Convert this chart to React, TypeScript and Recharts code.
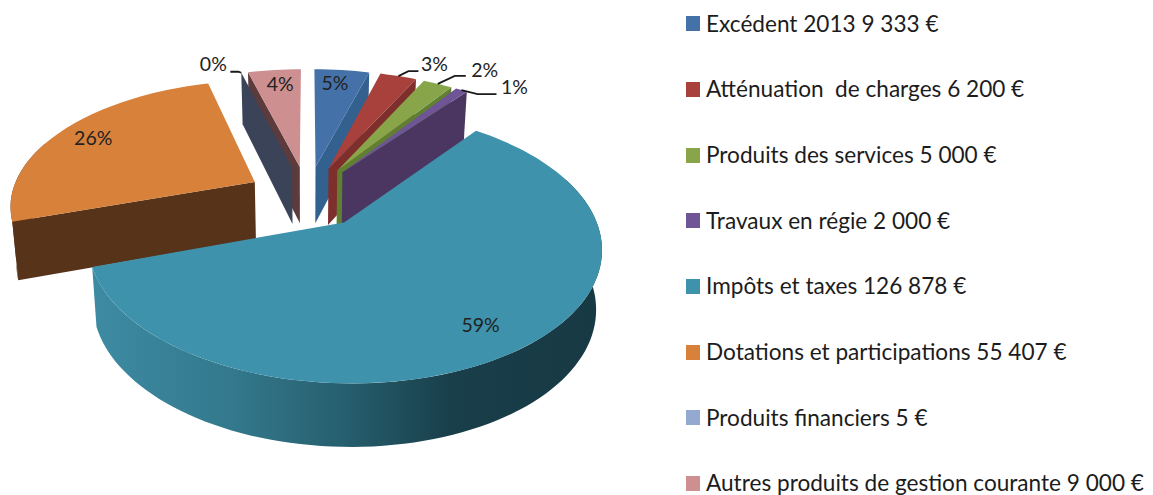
import { PieChart, Pie, Legend } from "recharts";

const categories = [
  "Excédent 2013 9 333 €",
  "Atténuation  de charges 6 200 €",
  "Produits des services 5 000 €",
  "Travaux en régie 2 000 €",
  "Impôts et taxes 126 878 €",
  "Dotations et participations 55 407 €",
  "Produits financiers 5 €",
  "Autres produits de gestion courante 9 000 €",
];
const amounts = [9333, 6200, 5000, 2000, 126878, 55407, 5, 9000];
const percentLabels = ["5%", "3%", "2%", "1%", "59%", "26%", "0%", "4%"];

const topColors = ["#4472a8", "#a8403c", "#88a54a", "#6f5596", "#3e92ab", "#d8813a", "#93a9cf", "#cd8f8f"];
const wallColors = ["#32608f", "#7e2f2c", "#5f8030", "#4a3660", "url(#tealWall)", "#57331a", "#3a4358", "#5d3b3c"];

// label offset from the outer middle of each slice, and leader elbows where there is one
const labelOffsets = [[-7, 12], [36, -13], [47, -14], [53, -4], [-40, -24], [30, 7], [-28, -9], [6, 14]];
const leaders: (number[][] | null)[] = [
  null,
  [[0, 0], [10, -5], [20, -5]],
  [[0, 0], [17, -8], [28, -8]],
  [[0, 0], [16, 4], [35, 4]],
  null,
  null,
  [[0, 0], [-3, -1], [-11, -1]],
  null,
];

const tableData = categories.map((name, i) => ({ name, value: amounts[i], fill: topColors[i] }));

const CX = 307.5;
const CY = 196.4;
const RX = 244;
const RY = 123.5;
const PERSPECTIVE = 0.17;
const EXPLODE = 0.25;
const LIGHT_BLUE = 6;

const rad = (d: number) => (d * Math.PI) / 180;

// x/z are on the ground plane in radius units, z pointing away from the viewer
function project(x: number, z: number, lower = false) {
  const s = 1 / (1 + PERSPECTIVE * z);
  const px = CX + RX * x * s;
  const py = CY - RY * z * s;
  if (!lower) return [px, py];
  return [CX + (px - CX) * 0.98, py + 57.5 - 5 * z];
}

// theta is clockwise from twelve o'clock
function slicePoint(theta: number, mid: number, rho: number, lower = false) {
  const x = EXPLODE * Math.sin(rad(mid)) + rho * Math.sin(rad(theta));
  const z = EXPLODE * Math.cos(rad(mid)) + rho * Math.cos(rad(theta));
  return project(x, z, lower);
}

const toPath = (pts: number[][]) =>
  pts.map((p, i) => `${i ? "L" : "M"}${p[0].toFixed(1)} ${p[1].toFixed(1)}`).join(" ") + " Z";

function arcPoints(from: number, to: number, mid: number, lower = false) {
  const n = Math.max(2, Math.ceil((to - from) / 2));
  const pts = [];
  for (let i = 0; i <= n; i++) pts.push(slicePoint(from + ((to - from) * i) / n, mid, 1, lower));
  return pts;
}

function walls(start: number, end: number, mid: number, fill: string) {
  const out = [];
  const a = Math.max(start, 70);
  const b = Math.min(end, 290);
  if (b > a) {
    out.push(<path key="outer" d={toPath([...arcPoints(a, b, mid), ...arcPoints(a, b, mid, true).reverse()])} fill={fill} />);
  }
  const radial = (t: number, key: string) => (
    <path
      key={key}
      d={toPath([slicePoint(t, mid, 0), slicePoint(t, mid, 1), slicePoint(t, mid, 1, true), slicePoint(t, mid, 0, true)])}
      fill={fill}
    />
  );
  if (Math.sin(rad(start)) < -0.001) out.push(radial(start, "start"));
  if (Math.sin(rad(end)) > 0.001) out.push(radial(end, "end"));
  return out;
}

function angles(props: any) {
  const start = 90 - props.startAngle;
  const end = 90 - props.endAngle;
  return { start, end, mid: (start + end) / 2 };
}

function WallShape(props: any) {
  const { start, end, mid } = angles(props);
  const index = categories.indexOf(props.name);
  if (index === LIGHT_BLUE) return <g />;
  return <g>{walls(start, end, mid, wallColors[index])}</g>;
}

function TopShape(props: any) {
  const { start, end, mid } = angles(props);
  const index = categories.indexOf(props.name);
  return (
    <g>
      {index === LIGHT_BLUE ? walls(start, end, mid, wallColors[index]) : null}
      <path d={toPath([slicePoint(0, mid, 0), ...arcPoints(start, end, mid)])} fill={props.fill} />
    </g>
  );
}

function PercentLabel(props: any) {
  const { index } = props;
  const mid = 90 - props.midAngle;
  const [ox, oy] = slicePoint(mid, mid, 1);
  const [dx, dy] = labelOffsets[index];
  const leader = leaders[index];
  return (
    <g>
      {leader ? (
        <polyline
          points={leader.map((p) => `${ox + p[0]},${oy + p[1]}`).join(" ")}
          fill="none"
          stroke="#1a1a1a"
          strokeWidth={1.8}
        />
      ) : null}
      <text x={ox + dx} y={oy + dy} textAnchor="middle" dominantBaseline="central" fontSize={19.5} fill="#222" fontFamily="Lato">
        {percentLabels[index]}
      </text>
    </g>
  );
}

function LegendList({ payload }: any) {
  const seen = new Set();
  const rows = (payload || []).filter((entry: any) => {
    if (seen.has(entry.value)) return false;
    seen.add(entry.value);
    return true;
  });
  return (
    <div>
      {rows.map((entry: any) => (
        <div key={entry.value} style={{ display: "flex", alignItems: "center", height: 65.7, whiteSpace: "pre" }}>
          <span style={{ width: 14, height: 15, background: entry.color, marginRight: 6 }} />
          <span style={{ fontFamily: "Lato", fontSize: 22.6, lineHeight: 1, color: "#1c1c1c" }}>{entry.value}</span>
        </div>
      ))}
    </div>
  );
}

export default function App() {
  return (
    <div style={{ position: "absolute", left: 0, top: 0, width: 1153, height: 495, overflow: "hidden" }}>
      <PieChart width={1153} height={495} margin={{ top: 0, right: 0, bottom: 0, left: 0 }}>
        <defs>
          <linearGradient id="tealWall" x1="0" y1="0" x2="1" y2="0">
            <stop offset="0" stopColor="#3d8ba3" />
            <stop offset="0.28" stopColor="#33788c" />
            <stop offset="0.5" stopColor="#265e6d" />
            <stop offset="0.7" stopColor="#193f4b" />
            <stop offset="1" stopColor="#173943" />
          </linearGradient>
        </defs>
        <Pie
          data={tableData}
          dataKey="value"
          nameKey="name"
          cx={CX}
          cy={CY}
          outerRadius={RX}
          startAngle={90}
          endAngle={-270}
          stroke="none"
          legendType="none"
          shape={WallShape}
          isAnimationActive={false}
        />
        <Pie
          data={tableData}
          dataKey="value"
          nameKey="name"
          cx={CX}
          cy={CY}
          outerRadius={RX}
          startAngle={90}
          endAngle={-270}
          stroke="none"
          shape={TopShape}
          label={PercentLabel}
          labelLine={false}
          isAnimationActive={false}
        />
        <Legend
          layout="vertical"
          align="left"
          verticalAlign="top"
          itemSorter={null}
          wrapperStyle={{ left: 686, top: -9, width: 467 }}
          content={LegendList}
        />
      </PieChart>
    </div>
  );
}
